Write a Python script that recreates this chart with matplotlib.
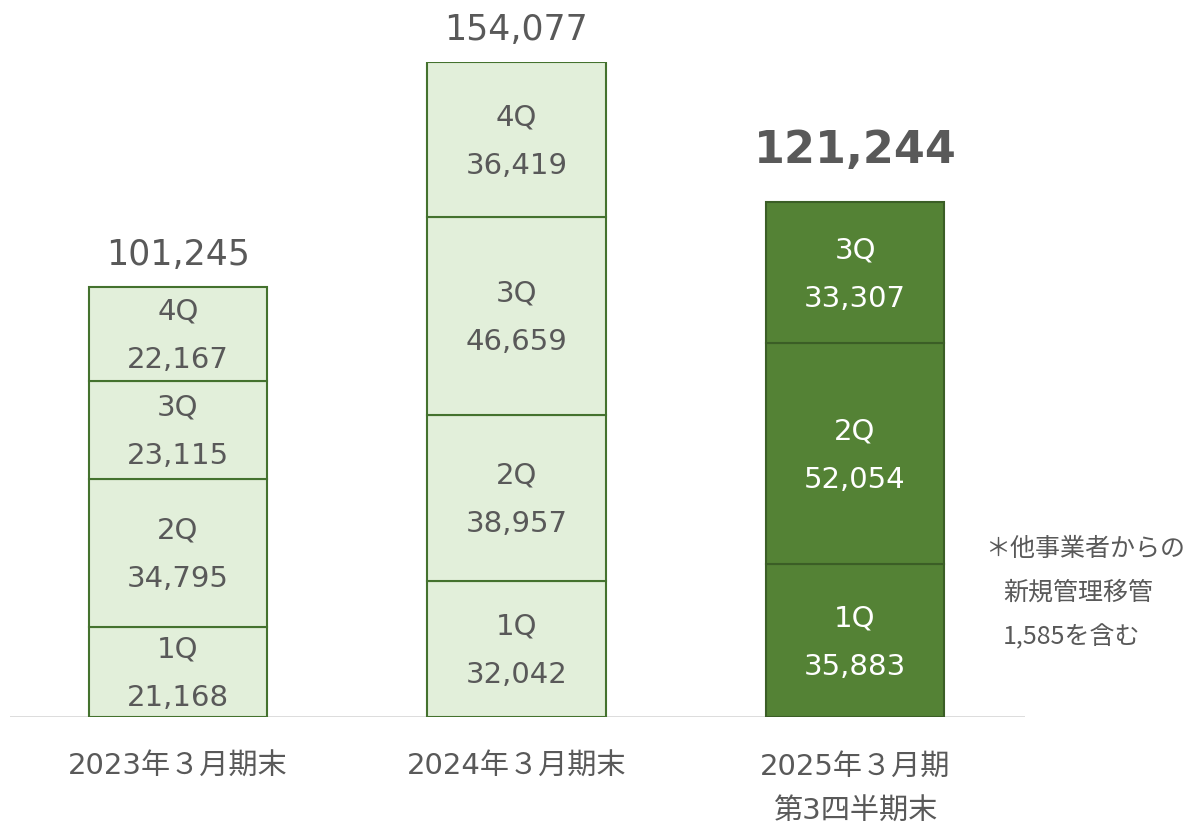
import matplotlib
matplotlib.use("Agg")
import matplotlib.pyplot as plt
import numpy as np

plt.rcParams['font.family'] = ['DejaVu Sans', 'Noto Sans CJK JP']

categories = ["2023年３月期末", "2024年３月期末", "2025年３月期\n第3四半期末"]
quarters = ["1Q", "2Q", "3Q", "4Q"]
values = [
    [21168, 34795, 23115, 22167],
    [32042, 38957, 46659, 36419],
    [35883, 52054, 33307],
]
totals = [101245, 154077, 121244]
note_lines = ["＊他事業者からの", "新規管理移管", "1,585を含む"]

W, H = 1184, 825
fig = plt.figure(figsize=(W / 100, H / 100), dpi=100)
ax = fig.add_axes([10 / W, 108 / H, 1015 / W, 655 / H])

light_fill = "#E2EFDA"
light_edge = "#44722E"
dark_fill = "#548235"
dark_edge = "#3B5E26"
txt = "#595959"

x = np.arange(len(categories))
width = 0.526
for i, vals in enumerate(values):
    bottom = 0
    dark = (i == 2)
    for q, v in enumerate(vals):
        ax.bar(x[i], v, width=width, bottom=bottom,
               color=dark_fill if dark else light_fill,
               edgecolor=dark_edge if dark else light_edge, linewidth=1.5,
               zorder=2)
        cy = bottom + v / 2
        tc = "white" if dark else txt
        ax.annotate(quarters[q], (x[i], cy), xytext=(0, 16), textcoords="offset points",
                    ha="center", va="center", fontsize=21, color=tc, zorder=3)
        ax.annotate(f"{v:,}", (x[i], cy), xytext=(0, -19), textcoords="offset points",
                    ha="center", va="center", fontsize=21, color=tc, zorder=3)
        bottom += v
    if dark:
        ax.annotate(f"{totals[i]:,}", (x[i], totals[i]), xytext=(0, 37),
                    textcoords="offset points", ha="center", va="center",
                    fontsize=32, fontweight="bold", color=txt, annotation_clip=False)
    else:
        ax.annotate(f"{totals[i]:,}", (x[i], totals[i]), xytext=(0, 23),
                    textcoords="offset points", ha="center", va="center",
                    fontsize=25, color=txt, annotation_clip=False)

ax.set_xlim(-0.496, 2.502)
ax.set_ylim(0, 154077)
ax.axhline(0, color="#D9D9D9", linewidth=2, zorder=1)
for s in ax.spines.values():
    s.set_visible(False)
ax.set_yticks([])
ax.set_xticks(x)
ax.set_xticklabels(categories, fontsize=21, color=txt, linespacing=1.75)
ax.tick_params(axis="x", length=0, pad=26)

fig.text(985 / W, 1 - 549 / H, note_lines[0], fontsize=18, color=txt,
         va="center", ha="left", family=['Noto Sans CJK JP'])
fig.text(1003 / W, 1 - 593 / H, note_lines[1], fontsize=18, color=txt,
         va="center", ha="left", family=['Noto Sans CJK JP'])
fig.text(1003 / W, 1 - 637 / H, note_lines[2], fontsize=18, color=txt,
         va="center", ha="left", family=['Noto Sans CJK JP'])

fig.savefig("out.png", dpi=100, facecolor="white")
